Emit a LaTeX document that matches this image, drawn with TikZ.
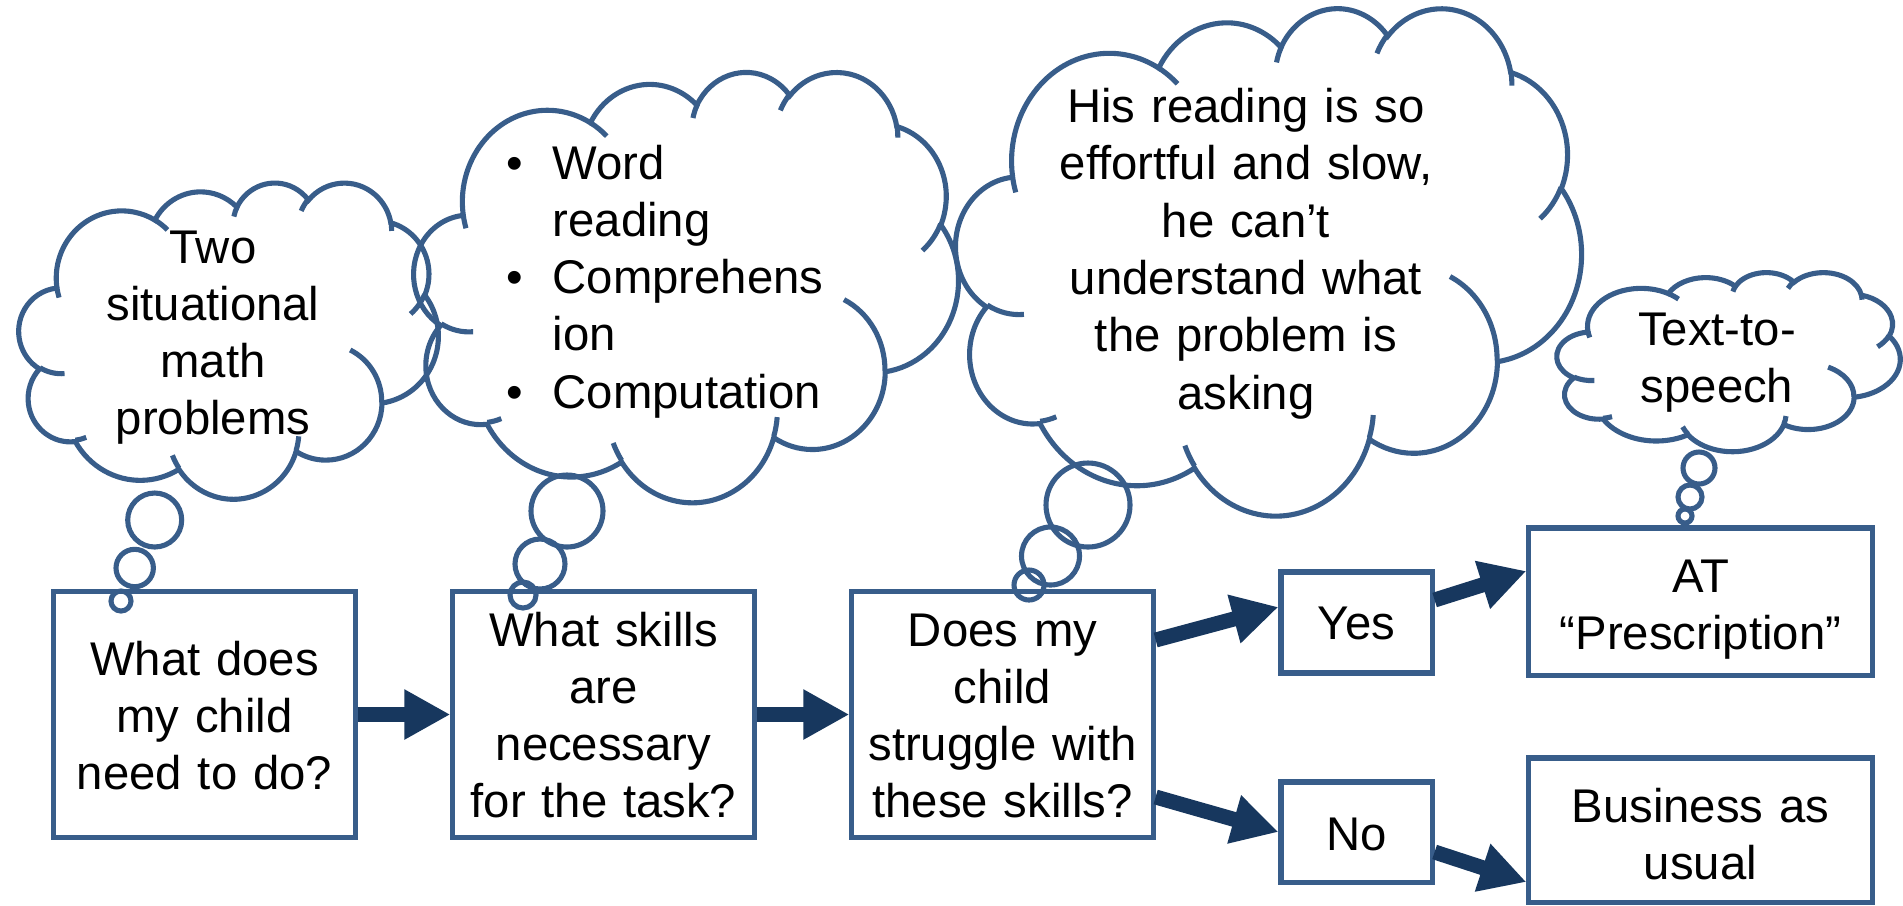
\documentclass[tikz,border=0pt]{standalone}
\usepackage{fontspec}
\setmainfont{Liberation Sans}
\usetikzlibrary{arrows.meta,calc}

\definecolor{rimblue}{RGB}{56,93,138}
\definecolor{arrownavy}{RGB}{23,55,94}

\newcommand{\thoughtcloud}[4]{%
  \pgfmathsetmacro\cloudxu{#3/4320}%
  \pgfmathsetmacro\cloudyu{-#4/4320}%
  \begin{scope}[shift={(#1,#2)}, x=\cloudxu cm, y=\cloudyu cm]
    \draw[cloudline] (3.9,14.37)
      \foreach \rx/\ry/\st/\sw in {6.753/9.19/-190.4875/123.7805, 5.333/7.267/-144.1024/89.9452,
        4.365/5.945/-145.8079/99.723, 4.857/6.595/-130.9861/117.2417,
        5.333/7.273/-78.7089/109.0269, 6.775/9.22/-46.2673/130.269,
        5.785/7.867/0.625/114.0333, 6.752/9.215/22.4516/115.1726,
        7.72/10.543/66.2426/75.711, 4.36/5.918/-274.9421/146.7356,
        4.345/5.945/-246.8285/152.5189}
      {arc[x radius=\rx, y radius=\ry, start angle={atan2(\rx*sin(\st),\ry*cos(\st))},
        delta angle={mod(atan2(\rx*sin(\st+\sw),\ry*cos(\st+\sw))-atan2(\rx*sin(\st),\ry*cos(\st))+720,360)}]}
      -- cycle;
    \draw[cloudline]
      \foreach \mx/\my/\rx/\ry/\st/\sw in {4.693/26.177/4.345/5.945/86.742/26.4295,
        6.928/34.899/4.36/5.918/73.6105/11.4475, 16.478/39.09/6.752/9.215/137.6242/14.0811,
        28.827/34.751/6.752/9.215/6.4533/15.9984, 34.129/22.954/5.785/7.867/-70.2924/70.9174,
        41.798/15.354/5.333/7.273/30.318/27.7515, 38.324/5.426/4.857/6.595/-13.7443/14.8589,
        29.078/3.952/4.857/6.595/-149.1815/18.1954, 22.141/4.72/4.365/5.945/-163.4943/17.6864,
        14/5.192/6.753/9.19/-66.707/12.3194, 4.127/15.789/6.753/9.19/157.6544/11.8582}
      {(\mx,\my) arc[x radius=\rx, y radius=\ry, start angle={atan2(\rx*sin(\st),\ry*cos(\st))},
        delta angle={mod(atan2(\rx*sin(\st+\sw),\ry*cos(\st+\sw))-atan2(\rx*sin(\st),\ry*cos(\st))+720,360)}]};
  \end{scope}}

\begin{document}
\begin{tikzpicture}[x=0.01cm, y=-0.01cm,
  cloudline/.style={draw=rimblue, line width=1.45pt},
  qbox/.style={draw=rimblue, line width=1.45pt, minimum width=3.01cm, minimum height=2.45cm, inner sep=0pt},
  txt/.style={font=\fontsize{13.45}{16.3}\selectfont, inner sep=0pt, align=center, anchor=base},
  flow/.style={draw=arrownavy, line width=0.15cm, -{Triangle[length=0.46cm, width=0.47cm]}}]
\useasboundingbox (0,0) rectangle (1903,905);

% thought clouds
\thoughtcloud{19}{182}{419}{316}
\thoughtcloud{414}{71}{544}{430}
\thoughtcloud{956}{7}{625}{507}
\thoughtcloud{1557}{272}{343}{179}

\draw[cloudline] (154.7,520) circle[radius=27];
\draw[cloudline] (134.7,568) circle[radius=18.7];
\draw[cloudline] (121,601) circle[radius=10];
\draw[cloudline] (567,511) circle[radius=36];
\draw[cloudline] (540,564) circle[radius=25];
\draw[cloudline] (523,595) circle[radius=13];
\draw[cloudline] (1088,505) circle[radius=42];
\draw[cloudline] (1050.5,556) circle[radius=29];
\draw[cloudline] (1029,585) circle[radius=15];
\draw[cloudline] (1699,468) circle[radius=16];
\draw[cloudline] (1690,497) circle[radius=12];
\draw[cloudline] (1685,516) circle[radius=7];

\node[txt, text width=4cm] (c1t) at (213,263) {Two\\situational\\math\\problems};
\node[txt, text width=4cm, align=left, anchor=base west] (c2t) at (506,179)
  {\makebox[0.46cm][l]{•}Word\\ \hspace*{0.46cm}reading\\ \makebox[0.46cm][l]{•}Comprehens\\
   \hspace*{0.46cm}ion\\ \makebox[0.46cm][l]{•}Computation};
\node[txt, text width=5cm] (c3t) at (1246,122.6)
  {His reading is so\\effortful and slow,\\he can’t\\understand what\\the problem is\\asking};
\node[txt, text width=3cm] (c4t) at (1717,345) {Text-to-\\speech};

% boxes
\node[qbox] (q1) at (204.5,714.5) {};
\node[qbox] (q2) at (603.5,714.5) {};
\node[qbox] (q3) at (1002.5,714.5) {};
\node[qbox, minimum width=1.51cm, minimum height=1.01cm] (yes) at (1356.5,622.5) {};
\node[qbox, minimum width=1.51cm, minimum height=1cm] (no) at (1356.5,832) {};
\node[qbox, minimum width=3.43cm, minimum height=1.47cm] (at) at (1700.5,601.5) {};
\node[qbox, minimum width=3.43cm, minimum height=1.44cm] (bau) at (1700.5,830) {};

\node[txt, text width=3cm] (q1t) at (204.5,675) {What does\\my child\\need to do?};
\node[txt, text width=3cm] (q2t) at (603.5,646) {What skills\\are\\necessary\\for the task?};
\node[txt, text width=3cm] (q3t) at (1002.5,646) {Does my\\child\\struggle with\\these skills?};
\node[txt, text width=1.5cm] (yest) at (1356.5,639) {Yes};
\node[txt, text width=1.5cm] (not) at (1356.5,850) {No};
\node[txt, text width=3.4cm] (att) at (1700.5,592) {AT\\“Prescription”};
\node[txt, text width=3.4cm] (baut) at (1700.5,822) {Business as\\usual};

% arrows
\draw[flow] (q1) -- (q2);
\draw[flow] (q2) -- (q3);
\draw[flow] ($(q3.east)+(0,-74.5)$) -- ($(yes.west)+(0,-15.5)$);
\draw[flow] ($(q3.east)+(0,82.5)$) -- (no.west);
\draw[flow] ($(yes.east)+(0,-22.5)$) -- ($(at.west)+(0,-30.5)$);
\draw[flow] ($(no.east)+(0,20)$) -- ($(bau.west)+(0,52)$);
\end{tikzpicture}
\end{document}
